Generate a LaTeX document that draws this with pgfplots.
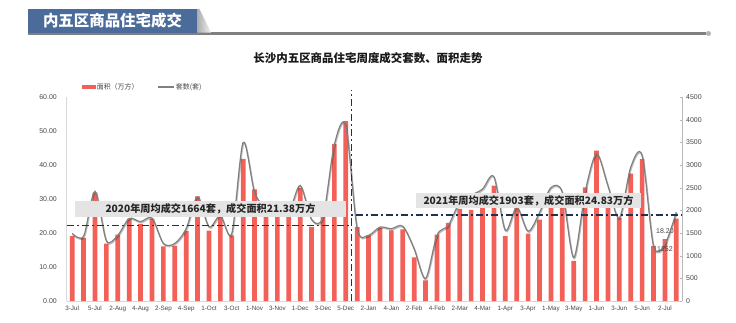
\documentclass[border=0pt]{standalone}
\usepackage{pgfplots}
\pgfplotsset{compat=1.18}
\usepackage{pgfplotstable}
\usepackage{fontspec}
\setmainfont{Liberation Sans}
\newfontfamily\cjk{Noto Sans CJK SC}
\definecolor{barred}{RGB}{242,96,88}
\definecolor{linegray}{RGB}{128,128,128}
\definecolor{avgblue}{RGB}{31,50,84}
\definecolor{hdrblue}{RGB}{75,107,155}
\definecolor{axisgray}{RGB}{217,217,217}
\definecolor{tickgray}{RGB}{70,70,70}
\definecolor{boxgray}{RGB}{228,228,228}
\pgfplotstableread{
idx area sets
0 19.1 1490
1 18.6 1430
2 31.9 2420
3 16.9 1330
4 19.5 1450
5 24.2 1820
6 22.7 1750
7 24.2 1830
8 16.1 1270
9 16.2 1270
10 20.6 1595
11 30.8 2300
12 20.7 1637
13 24.9 1880
14 19.3 1490
15 41.8 3500
16 32.8 2400
17 26.0 2050
18 25.5 2000
19 25.0 1950
20 33.2 2550
21 21.8 1800
22 26.2 1850
23 46.2 3450
24 52.9 3870
25 21.7 1600
26 19.3 1450
27 21.5 1630
28 20.8 1595
29 21.1 1650
30 12.8 1155
31 6.1 495
32 19.5 1450
33 23.0 1670
34 27.1 2180
35 26.8 2330
36 28.5 2470
37 33.9 2740
38 19.1 1560
39 27.6 2070
40 19.8 1540
41 23.9 1950
42 30.0 2500
43 30.0 2400
44 11.8 960
45 33.4 2400
46 44.2 3250
47 30.0 2545
48 24.4 1830
49 37.5 2950
50 41.7 3210
51 16.2 1215
52 18.2 1252
53 24.2 1960
}\datatable
\pgfplotsset{
  avgline/.style={draw=avgblue, line width=1.6bp, dash pattern=on 7.5bp off 3bp on 1.5bp off 3bp},
  setsline/.style={draw=linegray, line width=1.2bp, smooth,
     preaction={draw=black, opacity=0.25, line width=1.5bp, transform canvas={xshift=0.6bp,yshift=-1.1bp}}},
}
\begin{document}
\begin{tikzpicture}[x=1bp,y=1bp]
\path[use as bounding box] (0,0) rectangle (736,322);
% header
\draw[draw=linegray, line width=2.3bp] (28,288.5) -- (706,288.5);
\fill[color=gray!60] (708.5,288.5) circle (2.5);
\fill[hdrblue] (28,313) rectangle (197,289);
\shade[left color=gray!65, right color=gray!10] (197,313) -- (199.5,313) -- (211,289.5) -- (197,289.5) -- cycle;
\node[text=white, font=\cjk\bfseries\fontsize{15.5}{16}\selectfont, inner sep=0] at (112.5,301) {内五区商品住宅成交};
\node[text=black!90, font=\cjk\bfseries\fontsize{11.5}{12}\selectfont, inner sep=0] at (368,264) {长沙内五区商品住宅周度成交套数、面积走势};
\begin{axis}[
  at={(66.5bp,21bp)}, anchor=south west, scale only axis,
  width=615.5bp, height=204bp,
  xmin=-0.5, xmax=53.5, ymin=0, ymax=60,
  axis x line*=bottom, axis y line*=left,
  axis line style={draw=axisgray, line width=0.7bp},
  major tick length=0pt,
  xtick={0,2,...,52},
  xticklabels={3-Jul,5-Jul,2-Aug,4-Aug,2-Sep,4-Sep,1-Oct,3-Oct,1-Nov,3-Nov,1-Dec,3-Dec,5-Dec,2-Jan,4-Jan,2-Feb,4-Feb,2-Mar,4-Mar,1-Apr,3-Apr,1-May,3-May,1-Jun,3-Jun,5-Jun,2-Jul},
  xticklabel style={font=\fontsize{6.3}{7}\selectfont, text=tickgray, inner sep=0bp, yshift=-4.6bp},
  ytick={0,10,...,60},
  yticklabel style={font=\fontsize{7}{8}\selectfont, text=tickgray, inner sep=0bp, xshift=-9.5bp,
     /pgf/number format/.cd, fixed, fixed zerofill, precision=2, assume math mode=true},
  legend style={at={(0.0245,1.049)}, anchor=west, draw=none, fill=none, inner sep=0bp,
     font=\cjk\fontsize{7}{8}\selectfont, text=tickgray, legend columns=2,
     nodes={inner sep=1bp}, /tikz/every even column/.append style={column sep=18bp}},
  clip=false,
]
\addplot[ybar, bar width=4.7bp, fill=barred, draw=none,
  legend image code/.code={\fill[barred] (0bp,-2bp) rectangle (14bp,2bp);}]
  table[x=idx, y=area] {\datatable};
\addlegendentry{面积（万方）}
\addlegendimage{legend image code/.code={\draw[linegray, line width=1.2bp] (0bp,0bp) -- (16bp,0bp);}}
\addlegendentry{套数(套)}
\node[font=\fontsize{7}{8}\selectfont, text=tickgray, anchor=south, inner sep=0bp, yshift=5.5bp] at (axis cs:52,18.2) {18.20};
\end{axis}
\begin{axis}[
  at={(66.5bp,21bp)}, anchor=south west, scale only axis,
  width=615.5bp, height=204bp,
  xmin=-0.5, xmax=53.5, ymin=0, ymax=4500,
  axis x line=none, axis y line*=right,
  axis line style={draw=gray!55, line width=0.7bp},
  ytick={0,500,...,4500},
  major tick length=2.5bp, tick align=inside,
  tick style={draw=gray!55},
  yticklabel style={font=\fontsize{7}{8}\selectfont, text=tickgray, inner sep=0bp, xshift=4bp,
     /pgf/number format/.cd, 1000 sep={}, assume math mode=true},
  clip=false,
]
\addplot[setsline] table[x=idx, y=sets] {\datatable};
\addplot[avgline] coordinates {(-0.5,1664) (24.5,1664) (24.5,1903) (53.5,1903)};
\addplot[avgline] coordinates {(24.5,0) (24.5,4660)};
\node[font=\fontsize{7}{8}\selectfont, text=tickgray, inner sep=0bp, yshift=-5bp] at (axis cs:52,1252) {1252};
\end{axis}
% annotation boxes
\node[fill=boxgray, minimum width=271bp, minimum height=16bp, inner sep=0bp,
  font=\cjk\bfseries\fontsize{10.2}{11}\selectfont, text=black!85] at (210.5,113.3) {2020年周均成交1664套，成交面积21.38万方};
\node[fill=boxgray, minimum width=225bp, minimum height=15.6bp, inner sep=0bp,
  font=\cjk\bfseries\fontsize{10.2}{11}\selectfont, text=black!85] at (528.5,121.5) {2021年周均成交1903套，成交面积24.83万方};
\end{tikzpicture}
\end{document}
